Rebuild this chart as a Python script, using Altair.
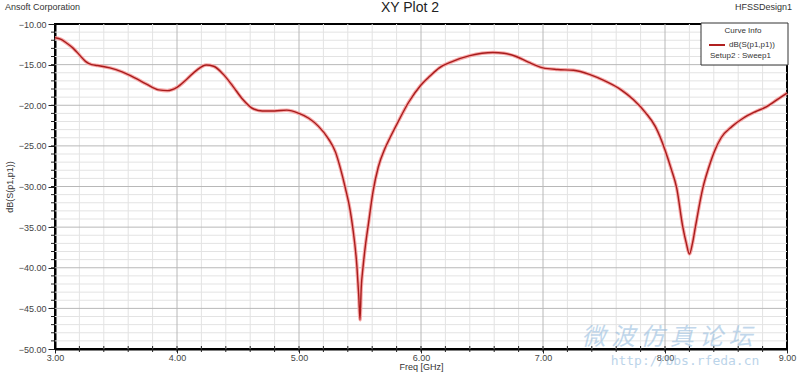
import altair as alt
import pandas as pd

freq = [3.00, 3.05, 3.10, 3.15, 3.20, 3.25, 3.30, 3.35, 3.45, 3.55, 3.65, 3.75, 3.85, 3.92,
        4.00, 4.08, 4.16, 4.24, 4.30, 4.38, 4.46, 4.54, 4.62, 4.70, 4.80, 4.90, 5.00, 5.08,
        5.16, 5.24, 5.30, 5.34, 5.38, 5.42, 5.44, 5.475, 5.49, 5.50, 5.51, 5.525, 5.545,
        5.57, 5.607, 5.65, 5.705, 5.746, 5.80, 5.90, 6.00, 6.074, 6.15, 6.26, 6.40, 6.50,
        6.59, 6.68, 6.78, 6.88, 7.00, 7.12, 7.25, 7.38, 7.52, 7.64, 7.74, 7.84, 7.92, 7.96,
        8.00, 8.05, 8.096, 8.145, 8.175, 8.20, 8.225, 8.25, 8.31, 8.36, 8.41, 8.46, 8.55,
        8.64, 8.74, 8.83, 8.92, 9.00]
s11 = [-11.7, -11.9, -12.4, -13.0, -13.8, -14.6, -15.0, -15.1, -15.4, -15.9, -16.6, -17.4, -18.1, -18.2,
       -17.8, -16.8, -15.7, -15.05, -15.2, -16.2, -17.7, -19.3, -20.4, -20.7, -20.7, -20.6, -21.0, -21.6,
       -22.6, -24.1, -25.8, -27.8, -30.2, -33.0, -35.0, -39.9, -43.5, -46.4, -42.5, -39.9, -37.2,
       -34.5, -30.6, -27.6, -25.3, -24.0, -22.4, -19.6, -17.5, -16.4, -15.4, -14.6, -13.9, -13.6,
       -13.5, -13.6, -14.0, -14.7, -15.4, -15.6, -15.7, -16.2, -17.1, -18.1, -19.3, -20.9, -22.6, -23.9,
       -25.5, -27.8, -30.2, -34.9, -37.0, -38.3, -37.0, -34.9, -30.2, -27.6, -25.5, -24.0, -22.6,
       -21.6, -20.8, -20.2, -19.3, -18.5]

x_major = [4, 5, 6, 7, 8]
x_minor = [round(3 + 0.2 * i, 1) for i in range(1, 30) if (i % 5) != 0]
y_major = [-45, -40, -35, -30, -25, -20, -15]
y_minor = [v for v in range(-49, -10) if v % 5 != 0]
x_ticks = [3, 4, 5, 6, 7, 8, 9]
y_ticks = [-50, -45, -40, -35, -30, -25, -20, -15, -10]
x_minor_ticks = [round(3 + 0.2 * i, 1) for i in range(1, 30)]
y_minor_ticks = list(range(-49, -10))

FONT = "Liberation Sans"
xs = alt.Scale(domain=[3, 9], nice=False, zero=False)
ys = alt.Scale(domain=[-50, -10], nice=False, zero=False)

df = pd.DataFrame({"f": freq, "db": s11})

xaxis = alt.Axis(values=x_ticks, format=".2f", grid=False, title="Freq [GHz]",
                 titleFont=FONT, titleFontSize=9, titleFontWeight="normal", titleColor="#333",
                 titlePadding=0, labelFont=FONT, labelFontSize=9, labelColor="#444",
                 labelPadding=0, tickSize=4, tickColor="#222", domainColor="#000",
                 domainWidth=2, labelFlush=False)
yaxis = alt.Axis(values=y_ticks, format=".2f", grid=False, title="dB(S(p1,p1))",
                 titleFont=FONT, titleFontSize=9, titleFontWeight="normal", titleColor="#333",
                 titlePadding=4, labelFont=FONT, labelFontSize=9, labelColor="#444",
                 labelPadding=2, tickSize=7, tickColor="#222", domainColor="#000",
                 domainWidth=2)

X = lambda: alt.X("f:Q", scale=xs, axis=xaxis)
Y = lambda: alt.Y("db:Q", scale=ys, axis=yaxis)

base = alt.Chart(df).mark_line(opacity=0).encode(x=X(), y=Y())

minor_vx = alt.Chart(pd.DataFrame({"f": x_minor})).mark_rule(color="#e3e3e3", strokeWidth=1).encode(x=X())
minor_hy = alt.Chart(pd.DataFrame({"db": y_minor})).mark_rule(color="#e3e3e3", strokeWidth=1).encode(y=Y())
major_vx = alt.Chart(pd.DataFrame({"f": x_major})).mark_rule(color="#b8b8b8", strokeWidth=1).encode(x=X())
major_hy = alt.Chart(pd.DataFrame({"db": y_major})).mark_rule(color="#b8b8b8", strokeWidth=1).encode(y=Y())

ytick_minor = alt.Chart(pd.DataFrame({"db": y_minor_ticks})).mark_rule(color="#222", strokeWidth=1).encode(
    y=Y(), x=alt.value(-4), x2=alt.value(0))
xtick_minor = alt.Chart(pd.DataFrame({"f": x_minor_ticks})).mark_rule(color="#222", strokeWidth=1).encode(
    x=X(), y=alt.value(322), y2=alt.value(328))

halo = alt.Chart(df).mark_line(color="#f7a8a8", strokeWidth=3.5, interpolate="monotone").encode(x=X(), y=Y())
line = alt.Chart(df).mark_line(color="#a81c1c", strokeWidth=1.4, interpolate="monotone").encode(x=X(), y=Y())

def txt(text, x, y, size=9, align="left", color="#333", font=FONT, **kw):
    return alt.Chart(pd.DataFrame({"t": [text]})).mark_text(
        align=align, baseline="middle", fontSize=size, font=font, color=color, **kw).encode(
        text="t:N", x=alt.value(x), y=alt.value(y))

header = [
    txt("Ansoft Corporation", -50, -17, 9),
    txt("XY Plot 2", 355, -16, 14, align="center", color="#222"),
    txt("HFSSDesign1", 737, -17, 9, align="right"),
]

legend_box = alt.Chart(pd.DataFrame({"a": [0]})).mark_rect(
    fill="white", stroke="#333", strokeWidth=1).encode(
    x=alt.value(646), x2=alt.value(733), y=alt.value(-1), y2=alt.value(41))
legend_line = alt.Chart(pd.DataFrame({"a": [0]})).mark_rule(color="#b02020", strokeWidth=2).encode(
    x=alt.value(654), x2=alt.value(670), y=alt.value(21))
legend_txt = [
    txt("Curve Info", 688, 7, 8, align="center"),
    txt("dB(S(p1,p1))", 674, 21, 8),
    txt("Setup2 : Sweep1", 655, 32, 8),
]

watermark = [
    txt("微 波 仿 真 论 坛", 612, 314, 24, align="center", color="#8fb8dc", font="Noto Sans CJK SC",
        opacity=0.55, fontStyle="italic"),
    txt("http://bbs.rfeda.cn", 630, 337, 13, align="center", color="#8fb8dc", font="DejaVu Sans Mono",
        opacity=0.6),
]

chart = alt.layer(
    base, minor_vx, minor_hy, major_vx, major_hy, ytick_minor, xtick_minor,
    halo, line, *watermark, legend_box, legend_line, *legend_txt, *header
).properties(
    width=732, height=325,
    autosize=alt.AutoSizeParams(type="none"),
    padding={"left": 55, "top": 24, "right": 13, "bottom": 26},
    background="white",
).configure_view(stroke="#000", strokeWidth=2)

chart.save("out.html", embed_options={"renderer": "svg", "actions": False})
